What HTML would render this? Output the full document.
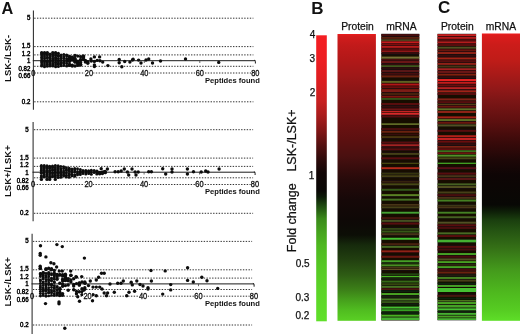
<!DOCTYPE html>
<html><head><meta charset="utf-8"><style>
html,body{margin:0;padding:0;background:#fff;}
body{width:520px;height:334px;overflow:hidden;font-family:"Liberation Sans",sans-serif;}
svg{display:block;filter:blur(0.3px);}
</style></head><body>
<svg width="520" height="334" viewBox="0 0 520 334">
<rect width="520" height="334" fill="#fff"/>
<g fill="#0d0d0d">
<line x1="34.2" y1="18.2" x2="253.4" y2="18.2" stroke="#333" stroke-width="1" stroke-dasharray="1.4 1.4"/>
<line x1="34.2" y1="46.6" x2="253.4" y2="46.6" stroke="#333" stroke-width="1" stroke-dasharray="1.4 1.4"/>
<line x1="34.2" y1="54.9" x2="253.4" y2="54.9" stroke="#333" stroke-width="1" stroke-dasharray="1.4 1.4"/>
<line x1="34.2" y1="66.3" x2="253.4" y2="66.3" stroke="#333" stroke-width="1" stroke-dasharray="1.4 1.4"/>
<line x1="34.2" y1="73.0" x2="253.4" y2="73.0" stroke="#333" stroke-width="1" stroke-dasharray="1.4 1.4"/>
<line x1="34.2" y1="101.8" x2="253.4" y2="101.8" stroke="#333" stroke-width="1" stroke-dasharray="1.4 1.4"/>
<line x1="33.4" y1="10.5" x2="33.4" y2="109.7" stroke="#2a2a2a" stroke-width="1.05"/>
<line x1="32.8" y1="60.7" x2="255.4" y2="60.7" stroke="#1a1a1a" stroke-width="1"/>
<line x1="88.9" y1="60.7" x2="88.9" y2="63.0" stroke="#444" stroke-width="0.8"/>
<line x1="144.3" y1="60.7" x2="144.3" y2="63.0" stroke="#444" stroke-width="0.8"/>
<line x1="199.8" y1="60.7" x2="199.8" y2="63.0" stroke="#444" stroke-width="0.8"/>
<path d="M254.2 60.2 Q255.4 60.3 255.4 61.7 L255.4 63.5" fill="none" stroke="#1a1a1a" stroke-width="1"/>
<text transform="translate(30.4 20.2) scale(0.88 1)" text-anchor="end" font-size="7" fill="#000" stroke="#000" stroke-width="0.45" font-family="Liberation Sans, sans-serif">5</text>
<text transform="translate(30.4 48.1) scale(0.88 1)" text-anchor="end" font-size="7" fill="#000" stroke="#000" stroke-width="0.45" font-family="Liberation Sans, sans-serif">1.5</text>
<text transform="translate(30.4 55.7) scale(0.88 1)" text-anchor="end" font-size="7" fill="#000" stroke="#000" stroke-width="0.45" font-family="Liberation Sans, sans-serif">1.2</text>
<text transform="translate(30.4 63.0) scale(0.88 1)" text-anchor="end" font-size="7" fill="#000" stroke="#000" stroke-width="0.45" font-family="Liberation Sans, sans-serif">1</text>
<text transform="translate(30.4 71.0) scale(0.88 1)" text-anchor="end" font-size="7" fill="#000" stroke="#000" stroke-width="0.45" font-family="Liberation Sans, sans-serif">0.82</text>
<text transform="translate(30.4 78.4) scale(0.88 1)" text-anchor="end" font-size="7" fill="#000" stroke="#000" stroke-width="0.45" font-family="Liberation Sans, sans-serif">0.66</text>
<text transform="translate(30.4 103.8) scale(0.88 1)" text-anchor="end" font-size="7" fill="#000" stroke="#000" stroke-width="0.45" font-family="Liberation Sans, sans-serif">0.2</text>
<circle cx="41.7" cy="53.4" r="1.5"/>
<circle cx="41.7" cy="54.9" r="1.5"/>
<circle cx="41.7" cy="57.0" r="1.5"/>
<circle cx="41.7" cy="58.0" r="1.5"/>
<circle cx="41.7" cy="60.0" r="1.5"/>
<circle cx="41.7" cy="61.5" r="1.5"/>
<circle cx="41.7" cy="62.8" r="1.5"/>
<circle cx="41.7" cy="64.8" r="1.5"/>
<circle cx="41.7" cy="65.9" r="1.5"/>
<circle cx="44.5" cy="53.5" r="1.5"/>
<circle cx="44.5" cy="54.8" r="1.5"/>
<circle cx="44.5" cy="56.4" r="1.5"/>
<circle cx="44.5" cy="58.3" r="1.5"/>
<circle cx="44.5" cy="60.3" r="1.5"/>
<circle cx="44.5" cy="61.2" r="1.5"/>
<circle cx="44.5" cy="62.9" r="1.5"/>
<circle cx="44.5" cy="64.9" r="1.5"/>
<circle cx="44.5" cy="66.8" r="1.5"/>
<circle cx="47.3" cy="53.7" r="1.5"/>
<circle cx="47.3" cy="55.1" r="1.5"/>
<circle cx="47.3" cy="57.3" r="1.5"/>
<circle cx="47.3" cy="57.9" r="1.5"/>
<circle cx="47.3" cy="60.4" r="1.5"/>
<circle cx="47.3" cy="61.4" r="1.5"/>
<circle cx="47.3" cy="62.8" r="1.5"/>
<circle cx="47.3" cy="64.4" r="1.5"/>
<circle cx="47.3" cy="66.2" r="1.5"/>
<circle cx="50.0" cy="53.9" r="1.5"/>
<circle cx="50.0" cy="54.9" r="1.5"/>
<circle cx="50.0" cy="56.9" r="1.5"/>
<circle cx="50.0" cy="58.5" r="1.5"/>
<circle cx="50.0" cy="59.9" r="1.5"/>
<circle cx="50.0" cy="61.6" r="1.5"/>
<circle cx="50.0" cy="62.8" r="1.5"/>
<circle cx="50.0" cy="64.4" r="1.5"/>
<circle cx="50.0" cy="66.1" r="1.5"/>
<circle cx="52.8" cy="53.8" r="1.5"/>
<circle cx="52.8" cy="55.1" r="1.5"/>
<circle cx="52.8" cy="56.6" r="1.5"/>
<circle cx="52.8" cy="58.5" r="1.5"/>
<circle cx="52.8" cy="60.0" r="1.5"/>
<circle cx="52.8" cy="61.4" r="1.5"/>
<circle cx="52.8" cy="63.5" r="1.5"/>
<circle cx="52.8" cy="65.0" r="1.5"/>
<circle cx="52.8" cy="66.1" r="1.5"/>
<circle cx="55.6" cy="53.7" r="1.5"/>
<circle cx="55.6" cy="55.2" r="1.5"/>
<circle cx="55.6" cy="57.2" r="1.5"/>
<circle cx="55.6" cy="58.6" r="1.5"/>
<circle cx="55.6" cy="59.8" r="1.5"/>
<circle cx="55.6" cy="62.1" r="1.5"/>
<circle cx="55.6" cy="62.8" r="1.5"/>
<circle cx="55.6" cy="64.7" r="1.5"/>
<circle cx="55.6" cy="66.7" r="1.5"/>
<circle cx="58.4" cy="53.3" r="1.5"/>
<circle cx="58.4" cy="55.2" r="1.5"/>
<circle cx="58.4" cy="56.3" r="1.5"/>
<circle cx="58.4" cy="58.6" r="1.5"/>
<circle cx="58.4" cy="60.3" r="1.5"/>
<circle cx="58.4" cy="61.7" r="1.5"/>
<circle cx="58.4" cy="63.6" r="1.5"/>
<circle cx="58.4" cy="64.6" r="1.5"/>
<circle cx="58.4" cy="66.6" r="1.5"/>
<circle cx="41.7" cy="52.6" r="1.7"/>
<circle cx="44.5" cy="52.6" r="1.7"/>
<circle cx="47.3" cy="52.6" r="1.7"/>
<circle cx="52.8" cy="52.6" r="1.7"/>
<circle cx="55.6" cy="52.6" r="1.7"/>
<circle cx="61.1" cy="54.9" r="1.5"/>
<circle cx="61.1" cy="56.7" r="1.5"/>
<circle cx="61.1" cy="58.4" r="1.5"/>
<circle cx="61.1" cy="60.5" r="1.5"/>
<circle cx="61.1" cy="62.4" r="1.5"/>
<circle cx="61.1" cy="63.8" r="1.5"/>
<circle cx="61.1" cy="65.8" r="1.5"/>
<circle cx="63.9" cy="54.4" r="1.5"/>
<circle cx="63.9" cy="56.8" r="1.5"/>
<circle cx="63.9" cy="58.5" r="1.5"/>
<circle cx="63.9" cy="60.7" r="1.5"/>
<circle cx="63.9" cy="62.3" r="1.5"/>
<circle cx="63.9" cy="63.6" r="1.5"/>
<circle cx="63.9" cy="65.5" r="1.5"/>
<circle cx="66.7" cy="55.0" r="1.5"/>
<circle cx="66.7" cy="56.1" r="1.5"/>
<circle cx="66.7" cy="58.4" r="1.5"/>
<circle cx="66.7" cy="59.9" r="1.5"/>
<circle cx="66.7" cy="61.6" r="1.5"/>
<circle cx="66.7" cy="63.4" r="1.5"/>
<circle cx="66.7" cy="65.9" r="1.5"/>
<circle cx="69.5" cy="56.9" r="1.7"/>
<circle cx="69.5" cy="58.2" r="1.7"/>
<circle cx="69.5" cy="59.8" r="1.7"/>
<circle cx="69.5" cy="65.1" r="1.7"/>
<circle cx="69.5" cy="56.4" r="1.7"/>
<circle cx="69.5" cy="60.4" r="1.7"/>
<circle cx="69.5" cy="61.5" r="1.7"/>
<circle cx="69.5" cy="65.2" r="1.7"/>
<circle cx="69.5" cy="64.5" r="1.7"/>
<circle cx="69.5" cy="65.0" r="1.7"/>
<circle cx="72.2" cy="58.6" r="1.7"/>
<circle cx="72.2" cy="60.1" r="1.7"/>
<circle cx="72.2" cy="59.4" r="1.7"/>
<circle cx="72.2" cy="65.2" r="1.7"/>
<circle cx="72.2" cy="66.0" r="1.7"/>
<circle cx="72.2" cy="57.2" r="1.7"/>
<circle cx="72.2" cy="57.4" r="1.7"/>
<circle cx="72.2" cy="58.1" r="1.7"/>
<circle cx="72.2" cy="58.1" r="1.7"/>
<circle cx="75.0" cy="60.8" r="1.7"/>
<circle cx="75.0" cy="62.0" r="1.7"/>
<circle cx="75.0" cy="58.4" r="1.7"/>
<circle cx="75.0" cy="55.5" r="1.7"/>
<circle cx="75.0" cy="60.1" r="1.7"/>
<circle cx="75.0" cy="59.6" r="1.7"/>
<circle cx="75.0" cy="61.7" r="1.7"/>
<circle cx="75.0" cy="66.0" r="1.7"/>
<circle cx="77.8" cy="63.1" r="1.7"/>
<circle cx="77.8" cy="61.2" r="1.7"/>
<circle cx="77.8" cy="62.3" r="1.7"/>
<circle cx="77.8" cy="62.9" r="1.7"/>
<circle cx="77.8" cy="56.1" r="1.7"/>
<circle cx="77.8" cy="65.4" r="1.7"/>
<circle cx="77.8" cy="64.1" r="1.7"/>
<circle cx="80.6" cy="65.1" r="1.7"/>
<circle cx="80.6" cy="64.3" r="1.7"/>
<circle cx="80.6" cy="59.8" r="1.7"/>
<circle cx="80.6" cy="59.9" r="1.7"/>
<circle cx="80.6" cy="56.6" r="1.7"/>
<circle cx="80.6" cy="62.5" r="1.7"/>
<circle cx="83.3" cy="56.2" r="1.7"/>
<circle cx="83.3" cy="56.2" r="1.7"/>
<circle cx="83.3" cy="57.8" r="1.7"/>
<circle cx="83.3" cy="57.3" r="1.7"/>
<circle cx="83.3" cy="59.2" r="1.7"/>
<circle cx="85.4" cy="60.4" r="1.7"/>
<circle cx="85.4" cy="62.1" r="1.7"/>
<circle cx="87.8" cy="61.8" r="1.7"/>
<circle cx="87.8" cy="63.2" r="1.7"/>
<circle cx="90.9" cy="59.0" r="1.7"/>
<circle cx="91.3" cy="61.1" r="1.7"/>
<circle cx="94.4" cy="56.9" r="1.7"/>
<circle cx="94.4" cy="61.4" r="1.7"/>
<circle cx="94.4" cy="64.9" r="1.7"/>
<circle cx="94.4" cy="66.6" r="1.7"/>
<circle cx="97.2" cy="60.4" r="1.7"/>
<circle cx="99.6" cy="56.9" r="1.7"/>
<circle cx="99.9" cy="60.7" r="1.7"/>
<circle cx="102.7" cy="62.1" r="1.7"/>
<circle cx="107.9" cy="65.6" r="1.7"/>
<circle cx="119.2" cy="59.5" r="1.7"/>
<circle cx="119.2" cy="62.7" r="1.7"/>
<circle cx="121.8" cy="66.7" r="1.7"/>
<circle cx="124.7" cy="61.5" r="1.7"/>
<circle cx="129.9" cy="62.1" r="1.7"/>
<circle cx="133.1" cy="59.2" r="1.7"/>
<circle cx="138.6" cy="60.1" r="1.7"/>
<circle cx="132.5" cy="60.0" r="1.7"/>
<circle cx="141.0" cy="63.0" r="1.7"/>
<circle cx="146.0" cy="60.0" r="1.7"/>
<circle cx="148.7" cy="59.0" r="1.7"/>
<circle cx="152.5" cy="63.0" r="1.7"/>
<circle cx="160.5" cy="61.0" r="1.7"/>
<circle cx="185.5" cy="59.0" r="1.7"/>
<circle cx="218.7" cy="62.4" r="1.7"/>
<text transform="translate(33.4 75.6) scale(0.8 1)" text-anchor="middle" font-size="9.3" fill="#111" stroke="#111" stroke-width="0.35" font-family="Liberation Sans, sans-serif">0</text>
<rect x="84.6" y="68.8" width="8.6" height="7.2" fill="#fff"/>
<text transform="translate(88.9 75.6) scale(0.8 1)" text-anchor="middle" font-size="9.3" fill="#111" stroke="#111" stroke-width="0.35" font-family="Liberation Sans, sans-serif">20</text>
<rect x="140.0" y="68.8" width="8.6" height="7.2" fill="#fff"/>
<text transform="translate(144.3 75.6) scale(0.8 1)" text-anchor="middle" font-size="9.3" fill="#111" stroke="#111" stroke-width="0.35" font-family="Liberation Sans, sans-serif">40</text>
<rect x="195.5" y="68.8" width="8.6" height="7.2" fill="#fff"/>
<text transform="translate(199.8 75.6) scale(0.8 1)" text-anchor="middle" font-size="9.3" fill="#111" stroke="#111" stroke-width="0.35" font-family="Liberation Sans, sans-serif">60</text>
<rect x="251.0" y="68.8" width="8.6" height="7.2" fill="#fff"/>
<text transform="translate(255.3 75.6) scale(0.8 1)" text-anchor="middle" font-size="9.3" fill="#111" stroke="#111" stroke-width="0.35" font-family="Liberation Sans, sans-serif">80</text>
<text x="259.8" y="82.8" text-anchor="end" font-size="7.6" font-weight="bold" fill="#111" font-family="Liberation Sans, sans-serif">Peptides found</text>
<text transform="translate(11.3 58.4) rotate(-90)" text-anchor="middle" font-size="9.5" font-weight="bold" fill="#111" font-family="Liberation Sans, sans-serif">LSK-/LSK-</text>
<line x1="33.9" y1="129.7" x2="253.1" y2="129.7" stroke="#333" stroke-width="1" stroke-dasharray="1.4 1.4"/>
<line x1="33.9" y1="158.1" x2="253.1" y2="158.1" stroke="#333" stroke-width="1" stroke-dasharray="1.4 1.4"/>
<line x1="33.9" y1="166.4" x2="253.1" y2="166.4" stroke="#333" stroke-width="1" stroke-dasharray="1.4 1.4"/>
<line x1="33.9" y1="177.8" x2="253.1" y2="177.8" stroke="#333" stroke-width="1" stroke-dasharray="1.4 1.4"/>
<line x1="33.9" y1="184.5" x2="253.1" y2="184.5" stroke="#333" stroke-width="1" stroke-dasharray="1.4 1.4"/>
<line x1="33.9" y1="213.3" x2="253.1" y2="213.3" stroke="#333" stroke-width="1" stroke-dasharray="1.4 1.4"/>
<line x1="33.1" y1="122.0" x2="33.1" y2="221.2" stroke="#2a2a2a" stroke-width="1.05"/>
<line x1="32.5" y1="172.2" x2="255.1" y2="172.2" stroke="#1a1a1a" stroke-width="1"/>
<line x1="88.6" y1="172.2" x2="88.6" y2="174.5" stroke="#444" stroke-width="0.8"/>
<line x1="144.1" y1="172.2" x2="144.1" y2="174.5" stroke="#444" stroke-width="0.8"/>
<line x1="199.5" y1="172.2" x2="199.5" y2="174.5" stroke="#444" stroke-width="0.8"/>
<path d="M253.9 171.7 Q255.1 171.8 255.1 173.2 L255.1 175.0" fill="none" stroke="#1a1a1a" stroke-width="1"/>
<text transform="translate(28.6 131.7) scale(0.88 1)" text-anchor="end" font-size="7" fill="#000" stroke="#000" stroke-width="0.45" font-family="Liberation Sans, sans-serif">5</text>
<text transform="translate(28.6 159.6) scale(0.88 1)" text-anchor="end" font-size="7" fill="#000" stroke="#000" stroke-width="0.45" font-family="Liberation Sans, sans-serif">1.5</text>
<text transform="translate(28.6 167.2) scale(0.88 1)" text-anchor="end" font-size="7" fill="#000" stroke="#000" stroke-width="0.45" font-family="Liberation Sans, sans-serif">1.2</text>
<text transform="translate(28.6 174.5) scale(0.88 1)" text-anchor="end" font-size="7" fill="#000" stroke="#000" stroke-width="0.45" font-family="Liberation Sans, sans-serif">1</text>
<text transform="translate(28.6 182.5) scale(0.88 1)" text-anchor="end" font-size="7" fill="#000" stroke="#000" stroke-width="0.45" font-family="Liberation Sans, sans-serif">0.82</text>
<text transform="translate(28.6 189.9) scale(0.88 1)" text-anchor="end" font-size="7" fill="#000" stroke="#000" stroke-width="0.45" font-family="Liberation Sans, sans-serif">0.66</text>
<text transform="translate(28.6 215.3) scale(0.88 1)" text-anchor="end" font-size="7" fill="#000" stroke="#000" stroke-width="0.45" font-family="Liberation Sans, sans-serif">0.2</text>
<circle cx="41.4" cy="165.4" r="1.5"/>
<circle cx="41.4" cy="166.9" r="1.5"/>
<circle cx="41.4" cy="168.7" r="1.5"/>
<circle cx="41.4" cy="170.2" r="1.5"/>
<circle cx="41.4" cy="172.1" r="1.5"/>
<circle cx="41.4" cy="173.3" r="1.5"/>
<circle cx="41.4" cy="175.8" r="1.5"/>
<circle cx="41.4" cy="177.1" r="1.5"/>
<circle cx="44.2" cy="165.4" r="1.5"/>
<circle cx="44.2" cy="167.2" r="1.5"/>
<circle cx="44.2" cy="168.8" r="1.5"/>
<circle cx="44.2" cy="170.5" r="1.5"/>
<circle cx="44.2" cy="171.8" r="1.5"/>
<circle cx="44.2" cy="174.1" r="1.5"/>
<circle cx="44.2" cy="175.9" r="1.5"/>
<circle cx="44.2" cy="177.0" r="1.5"/>
<circle cx="47.0" cy="165.8" r="1.5"/>
<circle cx="47.0" cy="167.0" r="1.5"/>
<circle cx="47.0" cy="168.6" r="1.5"/>
<circle cx="47.0" cy="170.4" r="1.5"/>
<circle cx="47.0" cy="172.0" r="1.5"/>
<circle cx="47.0" cy="174.1" r="1.5"/>
<circle cx="47.0" cy="175.1" r="1.5"/>
<circle cx="47.0" cy="176.5" r="1.5"/>
<circle cx="49.7" cy="166.3" r="1.5"/>
<circle cx="49.7" cy="167.4" r="1.5"/>
<circle cx="49.7" cy="168.6" r="1.5"/>
<circle cx="49.7" cy="170.6" r="1.5"/>
<circle cx="49.7" cy="171.7" r="1.5"/>
<circle cx="49.7" cy="173.8" r="1.5"/>
<circle cx="49.7" cy="175.9" r="1.5"/>
<circle cx="49.7" cy="177.4" r="1.5"/>
<circle cx="52.5" cy="166.0" r="1.5"/>
<circle cx="52.5" cy="167.2" r="1.5"/>
<circle cx="52.5" cy="168.9" r="1.5"/>
<circle cx="52.5" cy="170.3" r="1.5"/>
<circle cx="52.5" cy="172.5" r="1.5"/>
<circle cx="52.5" cy="173.8" r="1.5"/>
<circle cx="52.5" cy="175.7" r="1.5"/>
<circle cx="52.5" cy="176.8" r="1.5"/>
<circle cx="55.3" cy="165.5" r="1.5"/>
<circle cx="55.3" cy="167.7" r="1.5"/>
<circle cx="55.3" cy="169.5" r="1.5"/>
<circle cx="55.3" cy="171.0" r="1.5"/>
<circle cx="55.3" cy="172.5" r="1.5"/>
<circle cx="55.3" cy="174.1" r="1.5"/>
<circle cx="55.3" cy="175.6" r="1.5"/>
<circle cx="55.3" cy="176.7" r="1.5"/>
<circle cx="58.1" cy="165.8" r="1.5"/>
<circle cx="58.1" cy="167.3" r="1.5"/>
<circle cx="58.1" cy="168.5" r="1.5"/>
<circle cx="58.1" cy="170.1" r="1.5"/>
<circle cx="58.1" cy="172.0" r="1.5"/>
<circle cx="58.1" cy="173.6" r="1.5"/>
<circle cx="58.1" cy="175.6" r="1.5"/>
<circle cx="58.1" cy="177.5" r="1.5"/>
<circle cx="41.4" cy="179.4" r="1.7"/>
<circle cx="47.0" cy="179.4" r="1.7"/>
<circle cx="49.7" cy="179.4" r="1.7"/>
<circle cx="55.3" cy="179.4" r="1.7"/>
<circle cx="60.8" cy="166.6" r="1.5"/>
<circle cx="60.8" cy="169.0" r="1.5"/>
<circle cx="60.8" cy="170.9" r="1.5"/>
<circle cx="60.8" cy="172.6" r="1.5"/>
<circle cx="60.8" cy="173.7" r="1.5"/>
<circle cx="60.8" cy="175.4" r="1.5"/>
<circle cx="60.8" cy="177.2" r="1.5"/>
<circle cx="63.6" cy="166.8" r="1.5"/>
<circle cx="63.6" cy="168.6" r="1.5"/>
<circle cx="63.6" cy="170.9" r="1.5"/>
<circle cx="63.6" cy="173.0" r="1.5"/>
<circle cx="63.6" cy="174.7" r="1.5"/>
<circle cx="63.6" cy="176.1" r="1.5"/>
<circle cx="66.4" cy="167.7" r="1.5"/>
<circle cx="66.4" cy="169.7" r="1.5"/>
<circle cx="66.4" cy="170.6" r="1.5"/>
<circle cx="66.4" cy="173.1" r="1.5"/>
<circle cx="66.4" cy="175.2" r="1.5"/>
<circle cx="66.4" cy="176.9" r="1.5"/>
<circle cx="69.2" cy="168.2" r="1.5"/>
<circle cx="69.2" cy="169.7" r="1.5"/>
<circle cx="69.2" cy="171.2" r="1.5"/>
<circle cx="69.2" cy="173.7" r="1.5"/>
<circle cx="69.2" cy="174.9" r="1.5"/>
<circle cx="69.2" cy="177.3" r="1.5"/>
<circle cx="71.9" cy="168.9" r="1.5"/>
<circle cx="71.9" cy="170.0" r="1.5"/>
<circle cx="71.9" cy="171.8" r="1.5"/>
<circle cx="71.9" cy="174.3" r="1.5"/>
<circle cx="71.9" cy="175.8" r="1.5"/>
<circle cx="74.7" cy="168.4" r="1.5"/>
<circle cx="74.7" cy="170.1" r="1.5"/>
<circle cx="74.7" cy="172.0" r="1.5"/>
<circle cx="74.7" cy="174.7" r="1.5"/>
<circle cx="74.7" cy="176.3" r="1.5"/>
<circle cx="77.5" cy="168.8" r="1.5"/>
<circle cx="77.5" cy="171.4" r="1.5"/>
<circle cx="77.5" cy="173.4" r="1.5"/>
<circle cx="77.5" cy="174.8" r="1.5"/>
<circle cx="80.3" cy="169.4" r="1.5"/>
<circle cx="80.3" cy="171.5" r="1.5"/>
<circle cx="80.3" cy="172.8" r="1.5"/>
<circle cx="80.3" cy="174.4" r="1.5"/>
<circle cx="83.0" cy="170.4" r="1.5"/>
<circle cx="83.0" cy="171.8" r="1.5"/>
<circle cx="83.0" cy="173.5" r="1.5"/>
<circle cx="85.8" cy="170.6" r="1.5"/>
<circle cx="85.8" cy="171.8" r="1.5"/>
<circle cx="85.8" cy="174.1" r="1.5"/>
<circle cx="88.6" cy="170.7" r="1.5"/>
<circle cx="88.6" cy="171.7" r="1.5"/>
<circle cx="88.6" cy="173.6" r="1.5"/>
<circle cx="91.3" cy="170.2" r="1.5"/>
<circle cx="91.3" cy="172.0" r="1.5"/>
<circle cx="91.3" cy="174.2" r="1.5"/>
<circle cx="94.1" cy="170.4" r="1.5"/>
<circle cx="94.1" cy="172.4" r="1.5"/>
<circle cx="96.9" cy="171.2" r="1.7"/>
<circle cx="96.9" cy="173.9" r="1.7"/>
<circle cx="96.9" cy="172.0" r="1.7"/>
<circle cx="99.7" cy="172.4" r="1.7"/>
<circle cx="99.7" cy="172.8" r="1.7"/>
<circle cx="99.7" cy="173.7" r="1.7"/>
<circle cx="102.4" cy="172.3" r="1.7"/>
<circle cx="102.4" cy="173.6" r="1.7"/>
<circle cx="102.4" cy="172.5" r="1.7"/>
<circle cx="105.2" cy="172.6" r="1.7"/>
<circle cx="105.2" cy="172.6" r="1.7"/>
<circle cx="105.2" cy="171.4" r="1.7"/>
<circle cx="101.2" cy="168.8" r="1.7"/>
<circle cx="104.3" cy="171.8" r="1.7"/>
<circle cx="107.4" cy="169.0" r="1.7"/>
<circle cx="115.1" cy="171.8" r="1.7"/>
<circle cx="118.2" cy="171.8" r="1.7"/>
<circle cx="121.2" cy="171.0" r="1.7"/>
<circle cx="124.3" cy="169.0" r="1.7"/>
<circle cx="127.4" cy="172.0" r="1.7"/>
<circle cx="128.7" cy="175.0" r="1.7"/>
<circle cx="132.0" cy="169.0" r="1.7"/>
<circle cx="135.1" cy="172.0" r="1.7"/>
<circle cx="136.0" cy="175.0" r="1.7"/>
<circle cx="138.2" cy="172.0" r="1.7"/>
<circle cx="148.7" cy="171.8" r="1.7"/>
<circle cx="151.4" cy="171.8" r="1.7"/>
<circle cx="162.7" cy="168.8" r="1.7"/>
<circle cx="165.7" cy="174.0" r="1.7"/>
<circle cx="172.0" cy="169.0" r="1.7"/>
<circle cx="172.0" cy="172.0" r="1.7"/>
<circle cx="187.4" cy="169.0" r="1.7"/>
<circle cx="187.4" cy="174.0" r="1.7"/>
<circle cx="193.5" cy="171.8" r="1.7"/>
<circle cx="201.2" cy="172.0" r="1.7"/>
<circle cx="205.7" cy="171.0" r="1.7"/>
<circle cx="208.0" cy="172.0" r="1.7"/>
<circle cx="219.1" cy="169.0" r="1.7"/>
<text transform="translate(33.1 187.1) scale(0.8 1)" text-anchor="middle" font-size="9.3" fill="#111" stroke="#111" stroke-width="0.35" font-family="Liberation Sans, sans-serif">0</text>
<rect x="84.3" y="180.3" width="8.6" height="7.2" fill="#fff"/>
<text transform="translate(88.6 187.1) scale(0.8 1)" text-anchor="middle" font-size="9.3" fill="#111" stroke="#111" stroke-width="0.35" font-family="Liberation Sans, sans-serif">20</text>
<rect x="139.8" y="180.3" width="8.6" height="7.2" fill="#fff"/>
<text transform="translate(144.1 187.1) scale(0.8 1)" text-anchor="middle" font-size="9.3" fill="#111" stroke="#111" stroke-width="0.35" font-family="Liberation Sans, sans-serif">40</text>
<rect x="195.2" y="180.3" width="8.6" height="7.2" fill="#fff"/>
<text transform="translate(199.5 187.1) scale(0.8 1)" text-anchor="middle" font-size="9.3" fill="#111" stroke="#111" stroke-width="0.35" font-family="Liberation Sans, sans-serif">60</text>
<rect x="250.7" y="180.3" width="8.6" height="7.2" fill="#fff"/>
<text transform="translate(255.0 187.1) scale(0.8 1)" text-anchor="middle" font-size="9.3" fill="#111" stroke="#111" stroke-width="0.35" font-family="Liberation Sans, sans-serif">80</text>
<text x="259.8" y="194.3" text-anchor="end" font-size="7.6" font-weight="bold" fill="#111" font-family="Liberation Sans, sans-serif">Peptides found</text>
<text transform="translate(11.3 171.1) rotate(-90)" text-anchor="middle" font-size="9.5" font-weight="bold" fill="#111" font-family="Liberation Sans, sans-serif">LSK+/LSK+</text>
<line x1="32.9" y1="241.4" x2="252.1" y2="241.4" stroke="#333" stroke-width="1" stroke-dasharray="1.4 1.4"/>
<line x1="32.9" y1="269.8" x2="252.1" y2="269.8" stroke="#333" stroke-width="1" stroke-dasharray="1.4 1.4"/>
<line x1="32.9" y1="278.1" x2="252.1" y2="278.1" stroke="#333" stroke-width="1" stroke-dasharray="1.4 1.4"/>
<line x1="32.9" y1="289.5" x2="252.1" y2="289.5" stroke="#333" stroke-width="1" stroke-dasharray="1.4 1.4"/>
<line x1="32.9" y1="296.2" x2="252.1" y2="296.2" stroke="#333" stroke-width="1" stroke-dasharray="1.4 1.4"/>
<line x1="32.9" y1="325.0" x2="252.1" y2="325.0" stroke="#333" stroke-width="1" stroke-dasharray="1.4 1.4"/>
<line x1="32.1" y1="233.7" x2="32.1" y2="334.0" stroke="#2a2a2a" stroke-width="1.05"/>
<line x1="31.5" y1="283.9" x2="254.1" y2="283.9" stroke="#1a1a1a" stroke-width="1"/>
<line x1="87.6" y1="283.9" x2="87.6" y2="286.2" stroke="#444" stroke-width="0.8"/>
<line x1="143.1" y1="283.9" x2="143.1" y2="286.2" stroke="#444" stroke-width="0.8"/>
<line x1="198.5" y1="283.9" x2="198.5" y2="286.2" stroke="#444" stroke-width="0.8"/>
<path d="M252.9 283.4 Q254.1 283.5 254.1 284.9 L254.1 286.7" fill="none" stroke="#1a1a1a" stroke-width="1"/>
<text transform="translate(28.6 243.4) scale(0.88 1)" text-anchor="end" font-size="7" fill="#000" stroke="#000" stroke-width="0.45" font-family="Liberation Sans, sans-serif">5</text>
<text transform="translate(28.6 271.3) scale(0.88 1)" text-anchor="end" font-size="7" fill="#000" stroke="#000" stroke-width="0.45" font-family="Liberation Sans, sans-serif">1.5</text>
<text transform="translate(28.6 278.9) scale(0.88 1)" text-anchor="end" font-size="7" fill="#000" stroke="#000" stroke-width="0.45" font-family="Liberation Sans, sans-serif">1.2</text>
<text transform="translate(28.6 286.2) scale(0.88 1)" text-anchor="end" font-size="7" fill="#000" stroke="#000" stroke-width="0.45" font-family="Liberation Sans, sans-serif">1</text>
<text transform="translate(28.6 294.2) scale(0.88 1)" text-anchor="end" font-size="7" fill="#000" stroke="#000" stroke-width="0.45" font-family="Liberation Sans, sans-serif">0.82</text>
<text transform="translate(28.6 301.6) scale(0.88 1)" text-anchor="end" font-size="7" fill="#000" stroke="#000" stroke-width="0.45" font-family="Liberation Sans, sans-serif">0.66</text>
<text transform="translate(28.6 327.0) scale(0.88 1)" text-anchor="end" font-size="7" fill="#000" stroke="#000" stroke-width="0.45" font-family="Liberation Sans, sans-serif">0.2</text>
<circle cx="40.4" cy="273.4" r="1.45"/>
<circle cx="40.4" cy="274.9" r="1.45"/>
<circle cx="40.4" cy="276.6" r="1.45"/>
<circle cx="40.4" cy="280.0" r="1.45"/>
<circle cx="40.4" cy="280.9" r="1.45"/>
<circle cx="40.4" cy="283.5" r="1.45"/>
<circle cx="40.4" cy="285.9" r="1.45"/>
<circle cx="40.4" cy="287.6" r="1.45"/>
<circle cx="40.4" cy="289.2" r="1.45"/>
<circle cx="40.4" cy="291.5" r="1.45"/>
<circle cx="40.4" cy="293.6" r="1.45"/>
<circle cx="40.4" cy="296.0" r="1.45"/>
<circle cx="43.2" cy="272.8" r="1.45"/>
<circle cx="43.2" cy="275.6" r="1.45"/>
<circle cx="43.2" cy="277.0" r="1.45"/>
<circle cx="43.2" cy="279.1" r="1.45"/>
<circle cx="43.2" cy="282.0" r="1.45"/>
<circle cx="43.2" cy="283.5" r="1.45"/>
<circle cx="43.2" cy="285.6" r="1.45"/>
<circle cx="43.2" cy="288.0" r="1.45"/>
<circle cx="43.2" cy="290.2" r="1.45"/>
<circle cx="43.2" cy="291.4" r="1.45"/>
<circle cx="43.2" cy="293.7" r="1.45"/>
<circle cx="43.2" cy="295.5" r="1.45"/>
<circle cx="46.0" cy="273.5" r="1.45"/>
<circle cx="46.0" cy="275.8" r="1.45"/>
<circle cx="46.0" cy="277.4" r="1.45"/>
<circle cx="46.0" cy="279.6" r="1.45"/>
<circle cx="46.0" cy="281.5" r="1.45"/>
<circle cx="46.0" cy="284.3" r="1.45"/>
<circle cx="46.0" cy="285.9" r="1.45"/>
<circle cx="46.0" cy="288.2" r="1.45"/>
<circle cx="46.0" cy="290.3" r="1.45"/>
<circle cx="46.0" cy="291.1" r="1.45"/>
<circle cx="46.0" cy="293.6" r="1.45"/>
<circle cx="46.0" cy="296.3" r="1.45"/>
<circle cx="48.7" cy="274.1" r="1.45"/>
<circle cx="48.7" cy="274.8" r="1.45"/>
<circle cx="48.7" cy="276.8" r="1.45"/>
<circle cx="48.7" cy="279.4" r="1.45"/>
<circle cx="48.7" cy="280.7" r="1.45"/>
<circle cx="48.7" cy="283.0" r="1.45"/>
<circle cx="48.7" cy="284.7" r="1.45"/>
<circle cx="48.7" cy="287.8" r="1.45"/>
<circle cx="48.7" cy="290.0" r="1.45"/>
<circle cx="48.7" cy="292.2" r="1.45"/>
<circle cx="48.7" cy="292.9" r="1.45"/>
<circle cx="48.7" cy="295.9" r="1.45"/>
<circle cx="51.5" cy="273.8" r="1.45"/>
<circle cx="51.5" cy="274.9" r="1.45"/>
<circle cx="51.5" cy="278.2" r="1.45"/>
<circle cx="51.5" cy="280.3" r="1.45"/>
<circle cx="51.5" cy="281.0" r="1.45"/>
<circle cx="51.5" cy="284.3" r="1.45"/>
<circle cx="51.5" cy="285.3" r="1.45"/>
<circle cx="51.5" cy="287.5" r="1.45"/>
<circle cx="51.5" cy="290.4" r="1.45"/>
<circle cx="51.5" cy="292.1" r="1.45"/>
<circle cx="51.5" cy="292.9" r="1.45"/>
<circle cx="51.5" cy="295.4" r="1.45"/>
<circle cx="54.3" cy="273.5" r="1.45"/>
<circle cx="54.3" cy="275.2" r="1.45"/>
<circle cx="54.3" cy="277.0" r="1.45"/>
<circle cx="54.3" cy="279.2" r="1.45"/>
<circle cx="54.3" cy="281.9" r="1.45"/>
<circle cx="54.3" cy="282.6" r="1.45"/>
<circle cx="54.3" cy="285.6" r="1.45"/>
<circle cx="54.3" cy="287.4" r="1.45"/>
<circle cx="54.3" cy="288.6" r="1.45"/>
<circle cx="54.3" cy="291.2" r="1.45"/>
<circle cx="54.3" cy="293.7" r="1.45"/>
<circle cx="54.3" cy="295.5" r="1.45"/>
<circle cx="40.4" cy="268.4" r="1.7"/>
<circle cx="40.4" cy="273.9" r="1.7"/>
<circle cx="43.2" cy="272.7" r="1.7"/>
<circle cx="43.2" cy="273.8" r="1.7"/>
<circle cx="46.0" cy="268.6" r="1.7"/>
<circle cx="46.0" cy="269.6" r="1.7"/>
<circle cx="48.7" cy="268.2" r="1.7"/>
<circle cx="48.7" cy="272.7" r="1.7"/>
<circle cx="51.5" cy="269.6" r="1.7"/>
<circle cx="51.5" cy="268.8" r="1.7"/>
<circle cx="54.3" cy="270.5" r="1.7"/>
<circle cx="54.3" cy="273.5" r="1.7"/>
<circle cx="57.1" cy="292.7" r="1.7"/>
<circle cx="57.1" cy="279.2" r="1.7"/>
<circle cx="57.1" cy="276.6" r="1.7"/>
<circle cx="57.1" cy="295.1" r="1.7"/>
<circle cx="57.1" cy="286.7" r="1.7"/>
<circle cx="57.1" cy="289.8" r="1.7"/>
<circle cx="57.1" cy="275.1" r="1.7"/>
<circle cx="57.1" cy="274.4" r="1.7"/>
<circle cx="59.8" cy="289.5" r="1.7"/>
<circle cx="59.8" cy="283.2" r="1.7"/>
<circle cx="59.8" cy="274.7" r="1.7"/>
<circle cx="59.8" cy="295.5" r="1.7"/>
<circle cx="59.8" cy="288.2" r="1.7"/>
<circle cx="59.8" cy="292.2" r="1.7"/>
<circle cx="59.8" cy="275.0" r="1.7"/>
<circle cx="59.8" cy="293.5" r="1.7"/>
<circle cx="62.6" cy="274.6" r="1.7"/>
<circle cx="62.6" cy="293.7" r="1.7"/>
<circle cx="62.6" cy="283.9" r="1.7"/>
<circle cx="62.6" cy="281.1" r="1.7"/>
<circle cx="62.6" cy="286.3" r="1.7"/>
<circle cx="62.6" cy="295.2" r="1.7"/>
<circle cx="62.6" cy="279.4" r="1.7"/>
<circle cx="62.6" cy="276.1" r="1.7"/>
<circle cx="65.4" cy="285.6" r="1.7"/>
<circle cx="65.4" cy="278.7" r="1.7"/>
<circle cx="65.4" cy="275.6" r="1.7"/>
<circle cx="65.4" cy="276.9" r="1.7"/>
<circle cx="65.4" cy="274.2" r="1.7"/>
<circle cx="65.4" cy="277.8" r="1.7"/>
<circle cx="65.4" cy="280.5" r="1.7"/>
<circle cx="65.4" cy="280.3" r="1.7"/>
<circle cx="68.2" cy="290.2" r="1.7"/>
<circle cx="68.2" cy="280.8" r="1.7"/>
<circle cx="68.2" cy="285.0" r="1.7"/>
<circle cx="68.2" cy="278.6" r="1.7"/>
<circle cx="70.9" cy="281.9" r="1.7"/>
<circle cx="70.9" cy="275.4" r="1.7"/>
<circle cx="70.9" cy="280.0" r="1.7"/>
<circle cx="70.9" cy="275.3" r="1.7"/>
<circle cx="73.7" cy="289.7" r="1.7"/>
<circle cx="73.7" cy="286.0" r="1.7"/>
<circle cx="73.7" cy="278.8" r="1.7"/>
<circle cx="73.7" cy="284.5" r="1.7"/>
<circle cx="76.5" cy="293.7" r="1.7"/>
<circle cx="76.5" cy="277.1" r="1.7"/>
<circle cx="76.5" cy="291.4" r="1.7"/>
<circle cx="76.5" cy="283.6" r="1.7"/>
<circle cx="79.3" cy="284.9" r="1.7"/>
<circle cx="79.3" cy="291.7" r="1.7"/>
<circle cx="79.3" cy="282.9" r="1.7"/>
<circle cx="79.3" cy="285.1" r="1.7"/>
<circle cx="82.0" cy="288.8" r="1.7"/>
<circle cx="82.0" cy="294.6" r="1.7"/>
<circle cx="82.0" cy="281.9" r="1.7"/>
<circle cx="82.0" cy="291.6" r="1.7"/>
<circle cx="84.8" cy="289.1" r="1.7"/>
<circle cx="84.8" cy="287.7" r="1.7"/>
<circle cx="84.8" cy="283.1" r="1.7"/>
<circle cx="84.8" cy="282.0" r="1.7"/>
<circle cx="40.5" cy="245.8" r="1.7"/>
<circle cx="56.9" cy="244.6" r="1.7"/>
<circle cx="62.3" cy="246.6" r="1.7"/>
<circle cx="40.2" cy="253.5" r="1.7"/>
<circle cx="40.2" cy="255.3" r="1.7"/>
<circle cx="45.9" cy="256.9" r="1.7"/>
<circle cx="50.9" cy="262.8" r="1.7"/>
<circle cx="53.9" cy="263.7" r="1.7"/>
<circle cx="56.6" cy="267.0" r="1.7"/>
<circle cx="40.2" cy="266.3" r="1.7"/>
<circle cx="40.2" cy="268.3" r="1.7"/>
<circle cx="50.9" cy="269.7" r="1.7"/>
<circle cx="59.3" cy="271.1" r="1.7"/>
<circle cx="62.3" cy="271.1" r="1.7"/>
<circle cx="70.7" cy="271.1" r="1.7"/>
<circle cx="45.5" cy="303.6" r="1.7"/>
<circle cx="59.0" cy="302.0" r="1.7"/>
<circle cx="59.0" cy="303.8" r="1.7"/>
<circle cx="84.4" cy="258.1" r="1.7"/>
<circle cx="76.0" cy="276.6" r="1.7"/>
<circle cx="81.7" cy="276.6" r="1.7"/>
<circle cx="101.5" cy="273.2" r="1.7"/>
<circle cx="104.2" cy="273.2" r="1.7"/>
<circle cx="98.6" cy="277.2" r="1.7"/>
<circle cx="96.3" cy="280.0" r="1.7"/>
<circle cx="90.3" cy="281.0" r="1.7"/>
<circle cx="79.5" cy="283.3" r="1.7"/>
<circle cx="85.1" cy="283.3" r="1.7"/>
<circle cx="88.5" cy="285.6" r="1.7"/>
<circle cx="93.0" cy="287.1" r="1.7"/>
<circle cx="96.3" cy="287.1" r="1.7"/>
<circle cx="99.7" cy="287.1" r="1.7"/>
<circle cx="102.0" cy="289.0" r="1.7"/>
<circle cx="84.0" cy="290.0" r="1.7"/>
<circle cx="104.2" cy="293.0" r="1.7"/>
<circle cx="107.6" cy="293.0" r="1.7"/>
<circle cx="106.5" cy="295.7" r="1.7"/>
<circle cx="93.0" cy="294.6" r="1.7"/>
<circle cx="96.3" cy="295.7" r="1.7"/>
<circle cx="92.5" cy="300.8" r="1.7"/>
<circle cx="79.5" cy="301.3" r="1.7"/>
<circle cx="77.7" cy="296.8" r="1.7"/>
<circle cx="114.3" cy="292.3" r="1.7"/>
<circle cx="117.7" cy="283.3" r="1.7"/>
<circle cx="121.0" cy="283.3" r="1.7"/>
<circle cx="123.3" cy="281.0" r="1.7"/>
<circle cx="126.7" cy="295.7" r="1.7"/>
<circle cx="129.0" cy="292.3" r="1.7"/>
<circle cx="131.2" cy="282.2" r="1.7"/>
<circle cx="132.3" cy="284.9" r="1.7"/>
<circle cx="134.6" cy="291.2" r="1.7"/>
<circle cx="136.8" cy="281.0" r="1.7"/>
<circle cx="148.0" cy="287.8" r="1.7"/>
<circle cx="148.0" cy="289.0" r="1.7"/>
<circle cx="151.0" cy="270.5" r="1.7"/>
<circle cx="151.4" cy="281.0" r="1.7"/>
<circle cx="165.2" cy="270.9" r="1.7"/>
<circle cx="187.6" cy="267.7" r="1.7"/>
<circle cx="201.8" cy="277.2" r="1.7"/>
<circle cx="187.6" cy="280.4" r="1.7"/>
<circle cx="193.3" cy="282.0" r="1.7"/>
<circle cx="207.0" cy="280.8" r="1.7"/>
<circle cx="170.7" cy="284.6" r="1.7"/>
<circle cx="170.7" cy="289.9" r="1.7"/>
<circle cx="217.7" cy="288.4" r="1.7"/>
<circle cx="162.7" cy="294.1" r="1.7"/>
<circle cx="64.8" cy="328.2" r="1.7"/>
<circle cx="110.0" cy="284.0" r="1.7"/>
<circle cx="140.0" cy="284.5" r="1.7"/>
<circle cx="143.0" cy="286.0" r="1.7"/>
<text transform="translate(32.1 298.8) scale(0.8 1)" text-anchor="middle" font-size="9.3" fill="#111" stroke="#111" stroke-width="0.35" font-family="Liberation Sans, sans-serif">0</text>
<rect x="83.3" y="292.0" width="8.6" height="7.2" fill="#fff"/>
<text transform="translate(87.6 298.8) scale(0.8 1)" text-anchor="middle" font-size="9.3" fill="#111" stroke="#111" stroke-width="0.35" font-family="Liberation Sans, sans-serif">20</text>
<rect x="138.8" y="292.0" width="8.6" height="7.2" fill="#fff"/>
<text transform="translate(143.1 298.8) scale(0.8 1)" text-anchor="middle" font-size="9.3" fill="#111" stroke="#111" stroke-width="0.35" font-family="Liberation Sans, sans-serif">40</text>
<rect x="194.2" y="292.0" width="8.6" height="7.2" fill="#fff"/>
<text transform="translate(198.5 298.8) scale(0.8 1)" text-anchor="middle" font-size="9.3" fill="#111" stroke="#111" stroke-width="0.35" font-family="Liberation Sans, sans-serif">60</text>
<rect x="249.7" y="292.0" width="8.6" height="7.2" fill="#fff"/>
<text transform="translate(254.0 298.8) scale(0.8 1)" text-anchor="middle" font-size="9.3" fill="#111" stroke="#111" stroke-width="0.35" font-family="Liberation Sans, sans-serif">80</text>
<text x="259.8" y="306.0" text-anchor="end" font-size="7.6" font-weight="bold" fill="#111" font-family="Liberation Sans, sans-serif">Peptides found</text>
<text transform="translate(11.3 281.8) rotate(-90)" text-anchor="middle" font-size="9.5" font-weight="bold" fill="#111" font-family="Liberation Sans, sans-serif">LSK-/LSK+</text>
</g>
<text x="1.6" y="14.2" font-size="16.3" font-weight="bold" fill="#111" font-family="Liberation Sans, sans-serif">A</text>
<text x="311.2" y="13.6" font-size="17" font-weight="bold" fill="#111" font-family="Liberation Sans, sans-serif">B</text>
<text x="438.0" y="13.4" font-size="17" font-weight="bold" fill="#111" font-family="Liberation Sans, sans-serif">C</text>
<defs><linearGradient id="gbar" x1="0" y1="0" x2="0" y2="1"><stop offset="0.0045" stop-color="#f41e22"/><stop offset="0.0907" stop-color="#ec1e22"/><stop offset="0.1604" stop-color="#dc1e20"/><stop offset="0.2301" stop-color="#c82020"/><stop offset="0.2824" stop-color="#a81c1c"/><stop offset="0.3347" stop-color="#801616"/><stop offset="0.3870" stop-color="#521010"/><stop offset="0.4393" stop-color="#2a0a0a"/><stop offset="0.4812" stop-color="#120606"/><stop offset="0.5439" stop-color="#0a0806"/><stop offset="0.5649" stop-color="#0c1a08"/><stop offset="0.5962" stop-color="#1e4a10"/><stop offset="0.6416" stop-color="#3a8a1a"/><stop offset="0.6904" stop-color="#46a41e"/><stop offset="0.7357" stop-color="#4eb820"/><stop offset="0.8089" stop-color="#56c824"/><stop offset="0.8926" stop-color="#5cd428"/><stop offset="1.0007" stop-color="#60e02a"/></linearGradient><linearGradient id="gbp" x1="0" y1="0" x2="0" y2="1"><stop offset="0.0000" stop-color="#ea1c1c"/><stop offset="0.0087" stop-color="#d21c1c"/><stop offset="0.0384" stop-color="#c21a1a"/><stop offset="0.0907" stop-color="#b21818"/><stop offset="0.1464" stop-color="#9e1818"/><stop offset="0.1883" stop-color="#8e1616"/><stop offset="0.2301" stop-color="#821515"/><stop offset="0.2999" stop-color="#701212"/><stop offset="0.3696" stop-color="#5c1010"/><stop offset="0.4254" stop-color="#4a1010"/><stop offset="0.4742" stop-color="#340c0c"/><stop offset="0.5091" stop-color="#260a0a"/><stop offset="0.5788" stop-color="#160808"/><stop offset="0.6485" stop-color="#0e0806"/><stop offset="0.7008" stop-color="#0c0e06"/><stop offset="0.7357" stop-color="#162a0c"/><stop offset="0.7880" stop-color="#224010"/><stop offset="0.8403" stop-color="#2e5c14"/><stop offset="0.8926" stop-color="#3c8018"/><stop offset="0.9275" stop-color="#46a01c"/><stop offset="0.9623" stop-color="#50bc20"/><stop offset="1.0007" stop-color="#5ad024"/></linearGradient><linearGradient id="gcm" x1="0" y1="0" x2="0" y2="1"><stop offset="-0.0017" stop-color="#ee1c1c"/><stop offset="0.0070" stop-color="#dc1c1c"/><stop offset="0.0384" stop-color="#cc1c1a"/><stop offset="0.0907" stop-color="#c01c18"/><stop offset="0.1430" stop-color="#a81a18"/><stop offset="0.1953" stop-color="#901818"/><stop offset="0.2301" stop-color="#7e1616"/><stop offset="0.2999" stop-color="#601010"/><stop offset="0.3766" stop-color="#3a0a0a"/><stop offset="0.4393" stop-color="#1e0707"/><stop offset="0.4916" stop-color="#0e0505"/><stop offset="0.5962" stop-color="#080805"/><stop offset="0.6206" stop-color="#0e2008"/><stop offset="0.6485" stop-color="#1a3e0e"/><stop offset="0.6834" stop-color="#245212"/><stop offset="0.7427" stop-color="#346e16"/><stop offset="0.8229" stop-color="#449a1c"/><stop offset="0.8996" stop-color="#4eb81e"/><stop offset="0.9623" stop-color="#56cc22"/><stop offset="1.0007" stop-color="#5ede28"/></linearGradient></defs>
<rect x="316.2" y="35.3" width="10.6" height="286.0" fill="url(#gbar)"/>
<rect x="337.5" y="34.0" width="38.4" height="286.8" fill="url(#gbp)"/>
<rect x="481.9" y="33.5" width="38.1" height="287.3" fill="url(#gcm)"/>
<defs><filter id="sb1" x="0" y="-0.02" width="1" height="1.04"><feGaussianBlur stdDeviation="0 0.55"/></filter><filter id="sb2" x="0" y="-0.02" width="1" height="1.04"><feGaussianBlur stdDeviation="0 0.55"/></filter></defs>
<g filter="url(#sb1)"><rect x="381.3" y="33.8" width="38" height="286.70" fill="#120806"/><rect x="381.3" y="34.14" width="38" height="2.03" fill="#471111"/><rect x="381.3" y="36.84" width="38" height="2.03" fill="#592311"/><rect x="381.3" y="39.43" width="38" height="1.35" fill="#5f5020"/><rect x="381.3" y="41.34" width="38" height="2.03" fill="#c51a1a"/><rect x="381.3" y="43.93" width="38" height="1.35" fill="#7d1111"/><rect x="381.3" y="45.84" width="38" height="2.03" fill="#b31a1a"/><rect x="381.3" y="48.43" width="38" height="1.35" fill="#6b1111"/><rect x="381.3" y="50.32" width="38" height="1.95" fill="#8f1717"/><rect x="381.3" y="52.83" width="38" height="1.35" fill="#351111"/><rect x="381.3" y="56.55" width="38" height="2.10" fill="#757030"/><rect x="381.3" y="59.21" width="38" height="1.28" fill="#591111"/><rect x="381.3" y="61.04" width="38" height="2.02" fill="#6b1717"/><rect x="381.3" y="63.62" width="38" height="1.35" fill="#351111"/><rect x="381.3" y="65.42" width="38" height="1.35" fill="#517025"/><rect x="381.3" y="67.34" width="38" height="2.03" fill="#291111"/><rect x="381.3" y="70.04" width="38" height="2.03" fill="#591717"/><rect x="381.3" y="72.73" width="38" height="1.95" fill="#471111"/><rect x="381.3" y="75.35" width="38" height="2.10" fill="#6b2311"/><rect x="381.3" y="80.84" width="38" height="2.03" fill="#5f6020"/><rect x="381.3" y="83.54" width="38" height="2.03" fill="#b31717"/><rect x="381.3" y="86.24" width="38" height="2.02" fill="#6b1111"/><rect x="381.3" y="89.11" width="38" height="3.08" fill="#7d1d14"/><rect x="381.3" y="93.04" width="38" height="2.03" fill="#472311"/><rect x="381.3" y="95.73" width="38" height="1.95" fill="#7d1711"/><rect x="381.3" y="98.24" width="38" height="1.43" fill="#3e6a20"/><rect x="381.3" y="102.94" width="38" height="2.03" fill="#591111"/><rect x="381.3" y="105.64" width="38" height="2.03" fill="#351111"/><rect x="381.3" y="108.33" width="38" height="1.95" fill="#6b1717"/><rect x="381.3" y="110.82" width="38" height="1.35" fill="#c52323"/><rect x="381.3" y="112.74" width="38" height="2.02" fill="#d72929"/><rect x="381.3" y="115.44" width="38" height="2.03" fill="#591111"/><rect x="381.3" y="123.42" width="38" height="1.35" fill="#758a30"/><rect x="381.3" y="128.04" width="38" height="2.03" fill="#471111"/><rect x="381.3" y="130.74" width="38" height="2.02" fill="#6b2311"/><rect x="381.3" y="133.44" width="38" height="2.03" fill="#351108"/><rect x="381.3" y="136.14" width="38" height="2.02" fill="#473511"/><rect x="381.3" y="141.54" width="38" height="2.03" fill="#591111"/><rect x="381.3" y="144.24" width="38" height="2.02" fill="#a12323"/><rect x="381.3" y="146.75" width="38" height="1.10" fill="#351111"/><rect x="381.3" y="148.34" width="38" height="2.02" fill="#591111"/><rect x="381.3" y="152.84" width="38" height="2.02" fill="#444018"/><rect x="381.3" y="157.34" width="38" height="2.02" fill="#591111"/><rect x="381.3" y="162.63" width="38" height="1.35" fill="#474711"/><rect x="381.3" y="167.22" width="38" height="1.95" fill="#b32917"/><rect x="381.3" y="172.54" width="38" height="2.03" fill="#353511"/><rect x="381.3" y="175.24" width="38" height="2.02" fill="#444015"/><rect x="381.3" y="180.64" width="38" height="2.02" fill="#352311"/><rect x="381.3" y="183.34" width="38" height="2.02" fill="#474717"/><rect x="381.3" y="188.74" width="38" height="2.02" fill="#355917"/><rect x="381.3" y="194.14" width="38" height="2.02" fill="#5a8025"/><rect x="381.3" y="198.64" width="38" height="2.02" fill="#447020"/><rect x="381.3" y="203.99" width="38" height="1.73" fill="#473517"/><rect x="381.3" y="206.34" width="38" height="2.02" fill="#444018"/><rect x="381.3" y="211.72" width="38" height="1.95" fill="#44a030"/><rect x="381.3" y="217.14" width="38" height="2.02" fill="#471711"/><rect x="381.3" y="219.84" width="38" height="2.02" fill="#445020"/><rect x="381.3" y="222.54" width="38" height="2.03" fill="#591111"/><rect x="381.3" y="227.84" width="38" height="2.02" fill="#354717"/><rect x="381.3" y="230.54" width="38" height="2.03" fill="#355917"/><rect x="381.3" y="233.24" width="38" height="2.02" fill="#473517"/><rect x="381.3" y="237.74" width="38" height="2.02" fill="#44c030"/><rect x="381.3" y="243.14" width="38" height="2.02" fill="#472311"/><rect x="381.3" y="245.84" width="38" height="2.02" fill="#476b23"/><rect x="381.3" y="250.34" width="38" height="2.02" fill="#8f2317"/><rect x="381.3" y="255.74" width="38" height="2.03" fill="#6b1711"/><rect x="381.3" y="260.24" width="38" height="2.03" fill="#44a025"/><rect x="381.3" y="262.75" width="38" height="1.10" fill="#233511"/><rect x="381.3" y="264.34" width="38" height="2.02" fill="#478f23"/><rect x="381.3" y="266.93" width="38" height="1.35" fill="#473517"/><rect x="381.3" y="268.72" width="38" height="1.35" fill="#5f5020"/><rect x="381.3" y="273.34" width="38" height="2.02" fill="#234711"/><rect x="381.3" y="275.93" width="38" height="1.35" fill="#47b323"/><rect x="381.3" y="277.84" width="38" height="2.02" fill="#172311"/><rect x="381.3" y="280.54" width="38" height="2.02" fill="#356b17"/><rect x="381.3" y="283.22" width="38" height="1.95" fill="#354711"/><rect x="381.3" y="285.84" width="38" height="2.02" fill="#447020"/><rect x="381.3" y="288.43" width="38" height="1.35" fill="#591711"/><rect x="381.3" y="290.34" width="38" height="2.02" fill="#112308"/><rect x="381.3" y="293.04" width="38" height="2.02" fill="#47a123"/><rect x="381.3" y="295.74" width="38" height="2.03" fill="#172311"/><rect x="381.3" y="298.44" width="38" height="2.02" fill="#477d23"/><rect x="381.3" y="301.14" width="38" height="2.02" fill="#355917"/><rect x="381.3" y="303.84" width="38" height="2.02" fill="#112308"/><rect x="381.3" y="306.54" width="38" height="2.02" fill="#44c030"/><rect x="381.3" y="309.24" width="38" height="2.03" fill="#35a123"/><rect x="381.3" y="311.94" width="38" height="2.02" fill="#112308"/><rect x="381.3" y="314.64" width="38" height="2.02" fill="#47b323"/><rect x="381.3" y="317.44" width="38" height="2.62" fill="#44b030"/></g>
<g filter="url(#sb2)"><rect x="437.5" y="33.8" width="38.6" height="286.50" fill="#120806"/><rect x="437.5" y="34.14" width="38.6" height="2.03" fill="#c52323"/><rect x="437.5" y="36.84" width="38.6" height="2.03" fill="#b31a1a"/><rect x="437.5" y="39.43" width="38.6" height="1.35" fill="#6b1111"/><rect x="437.5" y="41.34" width="38.6" height="2.03" fill="#b31a1a"/><rect x="437.5" y="44.04" width="38.6" height="2.02" fill="#591111"/><rect x="437.5" y="46.73" width="38.6" height="1.95" fill="#515020"/><rect x="437.5" y="49.34" width="38.6" height="2.03" fill="#6b1711"/><rect x="437.5" y="52.04" width="38.6" height="2.02" fill="#8f2317"/><rect x="437.5" y="54.74" width="38.6" height="2.03" fill="#351111"/><rect x="437.5" y="57.44" width="38.6" height="2.02" fill="#a12317"/><rect x="437.5" y="60.14" width="38.6" height="2.03" fill="#591111"/><rect x="437.5" y="62.84" width="38.6" height="2.03" fill="#8f2317"/><rect x="437.5" y="65.54" width="38.6" height="2.03" fill="#473517"/><rect x="437.5" y="68.24" width="38.6" height="2.02" fill="#a12323"/><rect x="437.5" y="70.94" width="38.6" height="2.03" fill="#6b1717"/><rect x="437.5" y="73.64" width="38.6" height="2.03" fill="#7d2311"/><rect x="437.5" y="76.34" width="38.6" height="2.03" fill="#351111"/><rect x="437.5" y="79.04" width="38.6" height="2.03" fill="#e82323"/><rect x="437.5" y="81.74" width="38.6" height="2.02" fill="#c51a1a"/><rect x="437.5" y="84.44" width="38.6" height="2.03" fill="#6b1111"/><rect x="437.5" y="87.14" width="38.6" height="2.03" fill="#b32323"/><rect x="437.5" y="89.20" width="38.6" height="1.10" fill="#351111"/><rect x="437.5" y="90.34" width="38.6" height="2.03" fill="#a12317"/><rect x="437.5" y="93.04" width="38.6" height="2.03" fill="#591111"/><rect x="437.5" y="98.35" width="38.6" height="2.10" fill="#7d2317"/><rect x="437.5" y="101.14" width="38.6" height="2.03" fill="#591111"/><rect x="437.5" y="103.73" width="38.6" height="1.35" fill="#514018"/><rect x="437.5" y="105.64" width="38.6" height="2.03" fill="#6b1711"/><rect x="437.5" y="108.33" width="38.6" height="1.95" fill="#5f7025"/><rect x="437.5" y="110.94" width="38.6" height="2.03" fill="#8f2317"/><rect x="437.5" y="116.34" width="38.6" height="2.03" fill="#a12317"/><rect x="437.5" y="119.04" width="38.6" height="2.03" fill="#5a7025"/><rect x="437.5" y="121.74" width="38.6" height="2.02" fill="#6b1711"/><rect x="437.5" y="124.44" width="38.6" height="2.03" fill="#515020"/><rect x="437.5" y="129.84" width="38.6" height="2.02" fill="#591111"/><rect x="437.5" y="135.24" width="38.6" height="2.02" fill="#b32317"/><rect x="437.5" y="137.94" width="38.6" height="2.03" fill="#c52323"/><rect x="437.5" y="140.64" width="38.6" height="2.02" fill="#6b1111"/><rect x="437.5" y="143.34" width="38.6" height="2.02" fill="#351111"/><rect x="437.5" y="145.99" width="38.6" height="1.73" fill="#7d2317"/><rect x="437.5" y="148.28" width="38.6" height="1.65" fill="#6b1111"/><rect x="437.5" y="150.42" width="38.6" height="1.35" fill="#478f23"/><rect x="437.5" y="152.29" width="38.6" height="1.73" fill="#6b1711"/><rect x="437.5" y="154.64" width="38.6" height="2.02" fill="#519025"/><rect x="437.5" y="157.34" width="38.6" height="2.02" fill="#474717"/><rect x="437.5" y="162.63" width="38.6" height="1.35" fill="#44a025"/><rect x="437.5" y="167.22" width="38.6" height="1.95" fill="#591117"/><rect x="437.5" y="172.54" width="38.6" height="2.03" fill="#591111"/><rect x="437.5" y="175.24" width="38.6" height="2.02" fill="#473517"/><rect x="437.5" y="177.94" width="38.6" height="2.03" fill="#591717"/><rect x="437.5" y="183.34" width="38.6" height="2.02" fill="#446020"/><rect x="437.5" y="186.04" width="38.6" height="2.03" fill="#515020"/><rect x="437.5" y="191.44" width="38.6" height="2.03" fill="#444018"/><rect x="437.5" y="194.14" width="38.6" height="2.02" fill="#471111"/><rect x="437.5" y="196.84" width="38.6" height="2.02" fill="#473517"/><rect x="437.5" y="199.54" width="38.6" height="2.03" fill="#448020"/><rect x="437.5" y="204.75" width="38.6" height="1.10" fill="#444018"/><rect x="437.5" y="206.34" width="38.6" height="2.02" fill="#473517"/><rect x="437.5" y="211.72" width="38.6" height="1.95" fill="#448020"/><rect x="437.5" y="216.24" width="38.6" height="2.02" fill="#446020"/><rect x="437.5" y="221.64" width="38.6" height="2.02" fill="#515020"/><rect x="437.5" y="224.33" width="38.6" height="1.95" fill="#591111"/><rect x="437.5" y="226.94" width="38.6" height="2.03" fill="#471111"/><rect x="437.5" y="232.34" width="38.6" height="2.02" fill="#476b23"/><rect x="437.5" y="235.04" width="38.6" height="2.03" fill="#591111"/><rect x="437.5" y="239.65" width="38.6" height="2.70" fill="#44b030"/><rect x="437.5" y="245.84" width="38.6" height="2.02" fill="#591111"/><rect x="437.5" y="248.54" width="38.6" height="2.03" fill="#471111"/><rect x="437.5" y="253.04" width="38.6" height="2.03" fill="#44a025"/><rect x="437.5" y="255.74" width="38.6" height="2.03" fill="#471111"/><rect x="437.5" y="258.44" width="38.6" height="2.02" fill="#515020"/><rect x="437.5" y="261.13" width="38.6" height="1.95" fill="#47a123"/><rect x="437.5" y="264.22" width="38.6" height="1.35" fill="#353511"/><rect x="437.5" y="266.14" width="38.6" height="2.02" fill="#44a025"/><rect x="437.5" y="268.84" width="38.6" height="2.02" fill="#471111"/><rect x="437.5" y="271.54" width="38.6" height="2.02" fill="#6b2311"/><rect x="437.5" y="274.24" width="38.6" height="2.03" fill="#231a08"/><rect x="437.5" y="276.94" width="38.6" height="2.02" fill="#448020"/><rect x="437.5" y="279.64" width="38.6" height="2.02" fill="#444018"/><rect x="437.5" y="282.32" width="38.6" height="1.95" fill="#112308"/><rect x="437.5" y="284.94" width="38.6" height="2.02" fill="#44a025"/><rect x="437.5" y="287.98" width="38.6" height="4.05" fill="#44c030"/><rect x="437.5" y="294.84" width="38.6" height="2.02" fill="#471711"/><rect x="437.5" y="297.54" width="38.6" height="2.02" fill="#112308"/><rect x="437.5" y="300.12" width="38.6" height="1.35" fill="#518020"/><rect x="437.5" y="302.04" width="38.6" height="2.02" fill="#47a123"/><rect x="437.5" y="304.85" width="38.6" height="2.70" fill="#44a025"/><rect x="437.5" y="308.34" width="38.6" height="2.02" fill="#44c030"/><rect x="437.5" y="310.93" width="38.6" height="1.35" fill="#112308"/><rect x="437.5" y="312.84" width="38.6" height="2.02" fill="#44b030"/><rect x="437.5" y="315.54" width="38.6" height="2.02" fill="#47a123"/><rect x="437.5" y="318.20" width="38.6" height="1.80" fill="#44b030"/></g>
<text x="341.2" y="30.4" font-size="10.3" fill="#111" stroke="#111" stroke-width="0.25" font-family="Liberation Sans, sans-serif">Protein</text>
<text x="386.2" y="30.4" font-size="10.3" fill="#111" stroke="#111" stroke-width="0.25" font-family="Liberation Sans, sans-serif">mRNA</text>
<text x="441" y="30.4" font-size="10.3" fill="#111" stroke="#111" stroke-width="0.25" font-family="Liberation Sans, sans-serif">Protein</text>
<text x="485.8" y="30.4" font-size="10.3" fill="#111" stroke="#111" stroke-width="0.25" font-family="Liberation Sans, sans-serif">mRNA</text>
<text x="315.4" y="37.9" text-anchor="end" font-size="10" fill="#111" stroke="#111" stroke-width="0.25" font-family="Liberation Sans, sans-serif">4</text>
<text x="315.1" y="61.5" text-anchor="end" font-size="10" fill="#111" stroke="#111" stroke-width="0.25" font-family="Liberation Sans, sans-serif">3</text>
<text x="315.2" y="95.6" text-anchor="end" font-size="10" fill="#111" stroke="#111" stroke-width="0.25" font-family="Liberation Sans, sans-serif">2</text>
<text x="314.3" y="179.2" text-anchor="end" font-size="10" fill="#111" stroke="#111" stroke-width="0.25" font-family="Liberation Sans, sans-serif">1</text>
<text x="309.6" y="266.5" text-anchor="end" font-size="10" fill="#111" stroke="#111" stroke-width="0.25" font-family="Liberation Sans, sans-serif">0.5</text>
<text x="309.4" y="301.2" text-anchor="end" font-size="10" fill="#111" stroke="#111" stroke-width="0.25" font-family="Liberation Sans, sans-serif">0.3</text>
<text x="309.4" y="319.1" text-anchor="end" font-size="10" fill="#111" stroke="#111" stroke-width="0.25" font-family="Liberation Sans, sans-serif">0.2</text>
<text transform="translate(296.2 252.2) rotate(-90)" font-size="12.5" fill="#111" stroke="#111" stroke-width="0.25" font-family="Liberation Sans, sans-serif">Fold change</text>
<text transform="translate(296.2 171.6) rotate(-90)" font-size="12.5" fill="#111" stroke="#111" stroke-width="0.25" font-family="Liberation Sans, sans-serif">LSK-/LSK+</text>
</svg>
</body></html>
